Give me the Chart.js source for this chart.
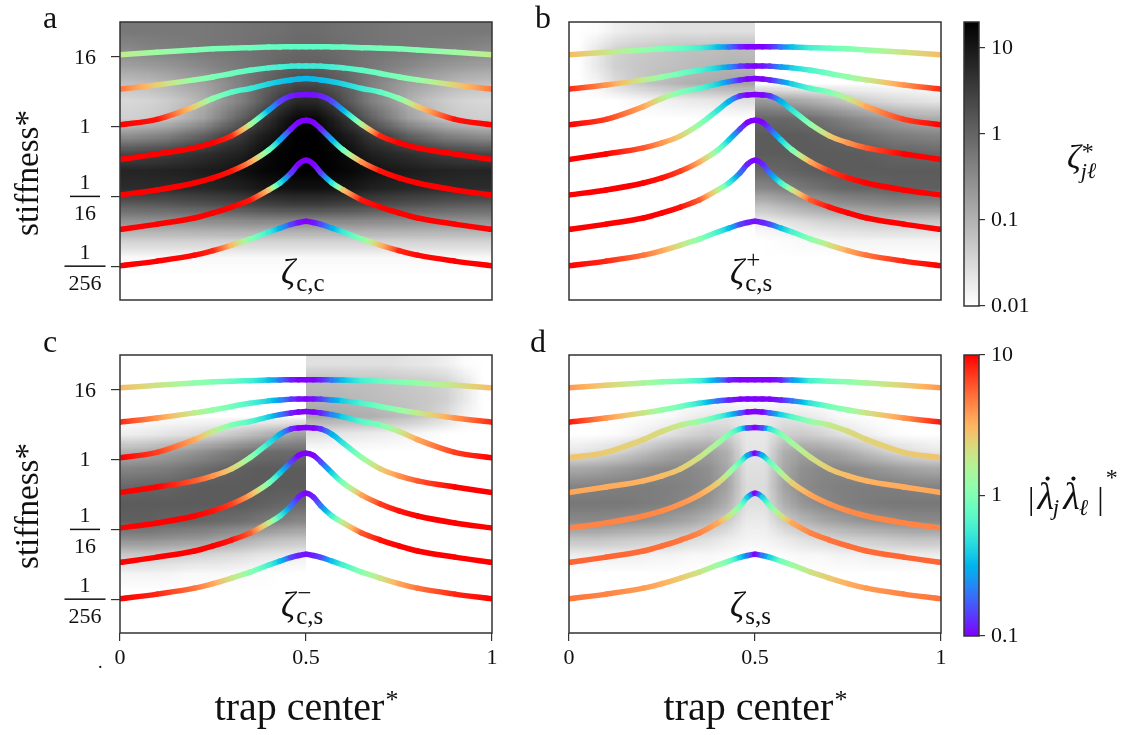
<!DOCTYPE html>
<html>
<head>
<meta charset="utf-8">
<script src="https://cdn.jsdelivr.net/npm/chart.js@4.4.1/dist/chart.umd.min.js"></script>
<style>
  html, body { margin: 0; padding: 0; background: #fff; }
  #fig { position: relative; width: 1147px; height: 735px; overflow: hidden; background: #fff; }
  #fig canvas { position: absolute; left: 0; top: 0; }
</style>
</head>
<body>
<div id="fig">
  <canvas id="pa" width="1147" height="735"></canvas>
  <canvas id="pb" width="1147" height="735"></canvas>
  <canvas id="pc" width="1147" height="735"></canvas>
  <canvas id="pd" width="1147" height="735"></canvas>
  <canvas id="cbZeta" width="1147" height="735"></canvas>
  <canvas id="cbRate" width="1147" height="735"></canvas>
</div>
<script>
// trap centre positions shared by all curves
const trapCenter = [0, 0.1, 0.2, 0.25, 0.3, 0.35, 0.4, 0.43, 0.46, 0.48, 0.5, 0.52, 0.54, 0.57, 0.6, 0.65, 0.7, 0.75, 0.8, 0.9, 1];

// log2 of the stiffness for each of the seven branches
const stiff1 = [4.12, 4.26, 4.40, 4.46, 4.50, 4.53, 4.56, 4.57, 4.58, 4.58, 4.58, 4.58, 4.58, 4.57, 4.56, 4.53, 4.50, 4.46, 4.40, 4.26, 4.12];
const stiff2 = [2.15, 2.39, 2.68, 2.85, 3.05, 3.23, 3.37, 3.42, 3.47, 3.48, 3.48, 3.48, 3.47, 3.42, 3.37, 3.23, 3.05, 2.85, 2.68, 2.39, 2.15];
const stiff3 = [0.10, 0.42, 1.15, 1.62, 1.98, 2.19, 2.45, 2.58, 2.68, 2.73, 2.76, 2.73, 2.68, 2.58, 2.45, 2.19, 1.98, 1.62, 1.15, 0.42, 0.10];
const stiff4 = [-1.88, -1.57, -1.22, -0.93, -0.53, 0.12, 0.95, 1.45, 1.76, 1.82, 1.84, 1.82, 1.76, 1.45, 0.95, 0.12, -0.53, -0.93, -1.22, -1.57, -1.88];
const stiff5 = [-3.92, -3.63, -3.23, -2.94, -2.54, -2.03, -1.34, -0.76, -0.13, 0.24, 0.36, 0.24, -0.13, -0.76, -1.34, -2.03, -2.54, -2.94, -3.23, -3.63, -3.92];
const stiff6 = [-5.89, -5.59, -5.24, -4.95, -4.61, -4.21, -3.63, -3.23, -2.65, -2.15, -1.93, -2.15, -2.65, -3.23, -3.63, -4.21, -4.61, -4.95, -5.24, -5.59, -5.89];
const stiff7 = [-7.98, -7.71, -7.37, -7.11, -6.79, -6.45, -6.04, -5.82, -5.61, -5.50, -5.43, -5.50, -5.61, -5.82, -6.04, -6.45, -6.79, -7.11, -7.37, -7.71, -7.98];
const branches = [stiff1, stiff2, stiff3, stiff4, stiff5, stiff6, stiff7];

// |λ̇c λ̇c|* along each branch
const rateCC = [
  [1.8, 1.3, 1.05, 0.98, 0.92, 0.86, 0.8, 0.78, 0.76, 0.75, 0.75, 0.75, 0.76, 0.78, 0.8, 0.86, 0.92, 0.98, 1.05, 1.3, 1.8],
  [5, 2.5, 1.2, 1.0, 0.85, 0.75, 0.65, 0.6, 0.56, 0.55, 0.55, 0.55, 0.56, 0.6, 0.65, 0.75, 0.85, 1.0, 1.2, 2.5, 5],
  [10, 9, 2.5, 1.1, 0.75, 0.55, 0.42, 0.37, 0.34, 0.33, 0.33, 0.33, 0.34, 0.37, 0.42, 0.55, 0.75, 1.1, 2.5, 9, 10],
  [10, 10, 10, 10, 8, 1.6, 0.3, 0.15, 0.12, 0.11, 0.11, 0.11, 0.12, 0.15, 0.3, 1.6, 8, 10, 10, 10, 10],
  [10, 10, 10, 10, 9, 4, 0.9, 0.3, 0.12, 0.1, 0.1, 0.1, 0.12, 0.3, 0.9, 4, 9, 10, 10, 10, 10],
  [10, 10, 10, 10, 10, 9, 2.7, 0.5, 0.14, 0.1, 0.1, 0.1, 0.14, 0.5, 2.7, 9, 10, 10, 10, 10, 10],
  [10, 10, 9.5, 8, 3, 1.1, 0.55, 0.3, 0.15, 0.11, 0.1, 0.11, 0.15, 0.3, 0.55, 1.1, 3, 8, 9.5, 10, 10]
];
// |λ̇c λ̇s|*
const rateCS = [
  [3, 2, 1.2, 1.0, 0.8, 0.6, 0.35, 0.2, 0.12, 0.1, 0.1, 0.1, 0.12, 0.2, 0.35, 0.6, 0.8, 1.0, 1.2, 2, 3],
  [8, 4, 1.8, 1.2, 0.9, 0.65, 0.4, 0.25, 0.14, 0.11, 0.1, 0.11, 0.14, 0.25, 0.4, 0.65, 0.9, 1.2, 1.8, 4, 8],
  [10, 7, 3.5, 1.8, 1.0, 0.7, 0.4, 0.22, 0.12, 0.1, 0.1, 0.1, 0.12, 0.22, 0.4, 0.7, 1.0, 1.8, 3.5, 7, 10],
  [10, 10, 6, 4, 2.5, 1.2, 0.5, 0.3, 0.13, 0.1, 0.1, 0.1, 0.13, 0.3, 0.5, 1.2, 2.5, 4, 6, 10, 10],
  [10, 10, 10, 9, 7, 3.5, 1.0, 0.4, 0.15, 0.1, 0.1, 0.1, 0.15, 0.4, 1.0, 3.5, 7, 9, 10, 10, 10],
  [10, 10, 10, 10, 9, 6, 1.8, 0.6, 0.2, 0.12, 0.1, 0.12, 0.2, 0.6, 1.8, 6, 9, 10, 10, 10, 10],
  [10, 8, 5, 3.5, 2, 1.1, 0.6, 0.35, 0.15, 0.12, 0.11, 0.12, 0.15, 0.35, 0.6, 1.1, 2, 3.5, 5, 8, 10]
];
// |λ̇s λ̇s|*
const rateSS = [
  [4, 2.5, 1.5, 1.1, 0.9, 0.6, 0.25, 0.12, 0.1, 0.1, 0.1, 0.1, 0.1, 0.12, 0.25, 0.6, 0.9, 1.1, 1.5, 2.5, 4],
  [9, 4, 2, 1.2, 0.9, 0.5, 0.2, 0.12, 0.1, 0.1, 0.1, 0.1, 0.1, 0.12, 0.2, 0.5, 0.9, 1.2, 2, 4, 9],
  [2.8, 2.6, 2.4, 2.2, 1.8, 1.2, 0.7, 0.4, 0.18, 0.1, 0.1, 0.1, 0.18, 0.4, 0.7, 1.2, 1.8, 2.2, 2.4, 2.6, 2.8],
  [3.5, 3.4, 3.2, 3, 2.6, 2.0, 1.4, 1.0, 0.5, 0.15, 0.1, 0.15, 0.5, 1.0, 1.4, 2.0, 2.6, 3, 3.2, 3.4, 3.5],
  [4.5, 4.5, 4.4, 4.3, 4.0, 3.5, 2.5, 1.5, 0.8, 0.3, 0.1, 0.3, 0.8, 1.5, 2.5, 3.5, 4.0, 4.3, 4.4, 4.5, 4.5],
  [5.5, 5.5, 5.3, 5.2, 5, 4.5, 3.5, 2, 1, 0.4, 0.1, 0.4, 1, 2, 3.5, 4.5, 5, 5.2, 5.3, 5.5, 5.5],
  [5, 4.5, 3.8, 3.3, 2.6, 2, 1.3, 0.9, 0.4, 0.2, 0.1, 0.2, 0.4, 0.9, 1.3, 2, 2.6, 3.3, 3.8, 4.5, 5]
];

// ζ* field: cell edges in trap centre and in log2 stiffness
const cellEdgesX = [0, 0.05, 0.1, 0.15, 0.2, 0.25, 0.3, 0.35, 0.4, 0.45, 0.5, 0.55, 0.6, 0.65, 0.7, 0.75, 0.8, 0.85, 0.9, 0.95, 1];
const cellEdgesY = [6, 5, 4, 3, 2, 1, 0, -1, -2, -3, -4, -5, -6, -7, -8, -9, -10];

const zetaCC = [
  [0.56, 0.56, 0.56, 0.56, 0.56, 0.6, 0.63, 0.67, 0.71, 0.8, 0.8, 0.71, 0.67, 0.63, 0.6, 0.56, 0.56, 0.56, 0.56, 0.56],
  [0.35, 0.4, 0.44, 0.5, 0.56, 0.6, 0.63, 0.71, 0.8, 0.9, 0.9, 0.8, 0.71, 0.63, 0.6, 0.56, 0.5, 0.44, 0.4, 0.35],
  [0.17, 0.19, 0.22, 0.27, 0.35, 0.44, 0.56, 0.71, 1.0, 1.14, 1.14, 1.0, 0.71, 0.56, 0.44, 0.35, 0.27, 0.22, 0.19, 0.17],
  [0.065, 0.074, 0.093, 0.13, 0.17, 0.27, 0.44, 0.9, 1.45, 2.3, 2.3, 1.45, 0.9, 0.44, 0.27, 0.17, 0.13, 0.093, 0.074, 0.065],
  [0.032, 0.036, 0.046, 0.065, 0.105, 0.22, 0.44, 1.14, 3.0, 6.1, 6.1, 3.0, 1.14, 0.44, 0.22, 0.105, 0.065, 0.046, 0.036, 0.032],
  [0.041, 0.046, 0.058, 0.093, 0.17, 0.44, 1.14, 3.0, 7.7, 15.7, 15.7, 7.7, 3.0, 1.14, 0.44, 0.17, 0.093, 0.058, 0.046, 0.041],
  [0.27, 0.35, 0.44, 0.71, 1.14, 2.3, 3.8, 7.7, 12.4, 20, 20, 12.4, 7.7, 3.8, 2.3, 1.14, 0.71, 0.44, 0.35, 0.27],
  [2.3, 2.6, 3.0, 3.8, 4.8, 6.1, 7.7, 12.4, 17.5, 20, 20, 17.5, 12.4, 7.7, 6.1, 4.8, 3.8, 3.0, 2.6, 2.3],
  [6.9, 6.9, 7.3, 7.7, 8.7, 9.8, 12.4, 15.7, 17.5, 20, 20, 17.5, 15.7, 12.4, 9.8, 8.7, 7.7, 7.3, 6.9, 6.9],
  [5.4, 5.4, 5.4, 5.8, 6.1, 6.9, 7.7, 9.8, 11, 12.4, 12.4, 11, 9.8, 7.7, 6.9, 6.1, 5.8, 5.4, 5.4, 5.4],
  [1.14, 1.2, 1.3, 1.45, 1.6, 1.8, 2.1, 2.4, 2.7, 3.0, 3.0, 2.7, 2.4, 2.1, 1.8, 1.6, 1.45, 1.3, 1.2, 1.14],
  [0.22, 0.22, 0.22, 0.23, 0.24, 0.25, 0.26, 0.27, 0.27, 0.27, 0.27, 0.27, 0.27, 0.26, 0.25, 0.24, 0.23, 0.22, 0.22, 0.22],
  [0.041, 0.041, 0.041, 0.041, 0.041, 0.041, 0.041, 0.041, 0.041, 0.041, 0.041, 0.041, 0.041, 0.041, 0.041, 0.041, 0.041, 0.041, 0.041, 0.041],
  [0.012, 0.012, 0.012, 0.012, 0.012, 0.012, 0.012, 0.012, 0.012, 0.012, 0.012, 0.012, 0.012, 0.012, 0.012, 0.012, 0.012, 0.012, 0.012, 0.012],
  [0.01, 0.01, 0.01, 0.01, 0.01, 0.01, 0.01, 0.01, 0.01, 0.01, 0.01, 0.01, 0.01, 0.01, 0.01, 0.01, 0.01, 0.01, 0.01, 0.01],
  [0.01, 0.01, 0.01, 0.01, 0.01, 0.01, 0.01, 0.01, 0.01, 0.01, 0.01, 0.01, 0.01, 0.01, 0.01, 0.01, 0.01, 0.01, 0.01, 0.01]
];

const zetaCSplus = [
  [0.01, 0.011, 0.016, 0.02, 0.022, 0.025, 0.025, 0.025, 0.025, 0.025, 0.01, 0.01, 0.01, 0.01, 0.01, 0.01, 0.01, 0.01, 0.01, 0.01],
  [0.01, 0.02, 0.036, 0.046, 0.051, 0.058, 0.065, 0.065, 0.074, 0.074, 0.01, 0.01, 0.01, 0.01, 0.01, 0.01, 0.01, 0.01, 0.01, 0.01],
  [0.01, 0.02, 0.041, 0.051, 0.058, 0.065, 0.074, 0.083, 0.093, 0.093, 0.01, 0.01, 0.01, 0.01, 0.01, 0.01, 0.01, 0.01, 0.01, 0.01],
  [0.01, 0.014, 0.028, 0.046, 0.065, 0.083, 0.105, 0.12, 0.14, 0.15, 0.01, 0.01, 0.01, 0.01, 0.01, 0.01, 0.01, 0.01, 0.01, 0.01],
  [0.01, 0.01, 0.01, 0.012, 0.014, 0.016, 0.018, 0.02, 0.022, 0.025, 0.22, 0.17, 0.13, 0.093, 0.065, 0.046, 0.036, 0.028, 0.025, 0.022],
  [0.01, 0.01, 0.01, 0.01, 0.01, 0.01, 0.01, 0.01, 0.01, 0.01, 0.9, 0.9, 0.8, 0.63, 0.44, 0.31, 0.22, 0.17, 0.13, 0.12],
  [0.01, 0.01, 0.01, 0.01, 0.01, 0.01, 0.01, 0.01, 0.01, 0.01, 1.3, 1.3, 1.3, 1.14, 1.0, 0.8, 0.63, 0.5, 0.44, 0.39],
  [0.01, 0.01, 0.01, 0.01, 0.01, 0.01, 0.01, 0.01, 0.01, 0.01, 1.3, 1.3, 1.3, 1.3, 1.3, 1.3, 1.14, 1.0, 1.0, 0.9],
  [0.01, 0.01, 0.01, 0.01, 0.01, 0.01, 0.01, 0.01, 0.01, 0.01, 0.9, 1.0, 1.14, 1.3, 1.3, 1.3, 1.3, 1.3, 1.3, 1.3],
  [0.01, 0.01, 0.01, 0.01, 0.01, 0.01, 0.01, 0.01, 0.01, 0.01, 0.35, 0.44, 0.56, 0.71, 0.9, 1.0, 1.0, 1.14, 1.14, 1.14],
  [0.01, 0.01, 0.01, 0.01, 0.01, 0.01, 0.01, 0.01, 0.01, 0.01, 0.065, 0.093, 0.13, 0.17, 0.22, 0.24, 0.27, 0.31, 0.31, 0.31],
  [0.01, 0.01, 0.01, 0.01, 0.01, 0.01, 0.01, 0.01, 0.01, 0.01, 0.016, 0.02, 0.025, 0.032, 0.036, 0.041, 0.046, 0.046, 0.046, 0.046],
  [0.01, 0.01, 0.01, 0.01, 0.01, 0.01, 0.01, 0.01, 0.01, 0.01, 0.01, 0.011, 0.012, 0.012, 0.014, 0.014, 0.014, 0.014, 0.014, 0.014],
  [0.01, 0.01, 0.01, 0.01, 0.01, 0.01, 0.01, 0.01, 0.01, 0.01, 0.01, 0.01, 0.01, 0.01, 0.01, 0.01, 0.01, 0.01, 0.01, 0.01],
  [0.01, 0.01, 0.01, 0.01, 0.01, 0.01, 0.01, 0.01, 0.01, 0.01, 0.01, 0.01, 0.01, 0.01, 0.01, 0.01, 0.01, 0.01, 0.01, 0.01],
  [0.01, 0.01, 0.01, 0.01, 0.01, 0.01, 0.01, 0.01, 0.01, 0.01, 0.01, 0.01, 0.01, 0.01, 0.01, 0.01, 0.01, 0.01, 0.01, 0.01]
];

const zetaCSminus = [
  [0.01, 0.01, 0.01, 0.01, 0.01, 0.01, 0.01, 0.01, 0.01, 0.01, 0.025, 0.025, 0.025, 0.025, 0.025, 0.022, 0.02, 0.016, 0.011, 0.01],
  [0.01, 0.01, 0.01, 0.01, 0.01, 0.01, 0.01, 0.01, 0.01, 0.01, 0.074, 0.074, 0.065, 0.065, 0.058, 0.051, 0.046, 0.036, 0.02, 0.01],
  [0.01, 0.01, 0.01, 0.01, 0.01, 0.01, 0.01, 0.01, 0.01, 0.01, 0.093, 0.093, 0.083, 0.074, 0.065, 0.058, 0.051, 0.041, 0.02, 0.01],
  [0.01, 0.01, 0.01, 0.01, 0.01, 0.01, 0.01, 0.01, 0.01, 0.01, 0.15, 0.14, 0.12, 0.105, 0.083, 0.065, 0.046, 0.028, 0.014, 0.01],
  [0.016, 0.018, 0.022, 0.025, 0.032, 0.041, 0.058, 0.083, 0.12, 0.17, 0.025, 0.022, 0.02, 0.018, 0.016, 0.014, 0.012, 0.01, 0.01, 0.01],
  [0.1, 0.12, 0.15, 0.19, 0.27, 0.39, 0.56, 0.71, 0.8, 0.8, 0.01, 0.01, 0.01, 0.01, 0.01, 0.01, 0.01, 0.01, 0.01, 0.01],
  [0.39, 0.44, 0.5, 0.63, 0.8, 1.0, 1.14, 1.3, 1.3, 1.3, 0.01, 0.01, 0.01, 0.01, 0.01, 0.01, 0.01, 0.01, 0.01, 0.01],
  [0.9, 1.0, 1.0, 1.14, 1.3, 1.3, 1.3, 1.3, 1.3, 1.3, 0.01, 0.01, 0.01, 0.01, 0.01, 0.01, 0.01, 0.01, 0.01, 0.01],
  [1.3, 1.3, 1.3, 1.3, 1.3, 1.3, 1.3, 1.14, 1.0, 0.9, 0.01, 0.01, 0.01, 0.01, 0.01, 0.01, 0.01, 0.01, 0.01, 0.01],
  [1.14, 1.14, 1.0, 1.0, 0.9, 0.8, 0.71, 0.56, 0.44, 0.35, 0.01, 0.01, 0.01, 0.01, 0.01, 0.01, 0.01, 0.01, 0.01, 0.01],
  [0.31, 0.31, 0.27, 0.24, 0.22, 0.17, 0.13, 0.093, 0.074, 0.065, 0.01, 0.01, 0.01, 0.01, 0.01, 0.01, 0.01, 0.01, 0.01, 0.01],
  [0.046, 0.046, 0.041, 0.036, 0.032, 0.028, 0.025, 0.02, 0.018, 0.016, 0.01, 0.01, 0.01, 0.01, 0.01, 0.01, 0.01, 0.01, 0.01, 0.01],
  [0.014, 0.014, 0.014, 0.012, 0.012, 0.012, 0.011, 0.011, 0.01, 0.01, 0.01, 0.01, 0.01, 0.01, 0.01, 0.01, 0.01, 0.01, 0.01, 0.01],
  [0.01, 0.01, 0.01, 0.01, 0.01, 0.01, 0.01, 0.01, 0.01, 0.01, 0.01, 0.01, 0.01, 0.01, 0.01, 0.01, 0.01, 0.01, 0.01, 0.01],
  [0.01, 0.01, 0.01, 0.01, 0.01, 0.01, 0.01, 0.01, 0.01, 0.01, 0.01, 0.01, 0.01, 0.01, 0.01, 0.01, 0.01, 0.01, 0.01, 0.01],
  [0.01, 0.01, 0.01, 0.01, 0.01, 0.01, 0.01, 0.01, 0.01, 0.01, 0.01, 0.01, 0.01, 0.01, 0.01, 0.01, 0.01, 0.01, 0.01, 0.01]
];

const zetaSS = [
  [0.01, 0.01, 0.01, 0.01, 0.01, 0.01, 0.01, 0.01, 0.01, 0.01, 0.01, 0.01, 0.01, 0.01, 0.01, 0.01, 0.01, 0.01, 0.01, 0.01],
  [0.01, 0.01, 0.01, 0.01, 0.01, 0.01, 0.01, 0.01, 0.01, 0.01, 0.01, 0.01, 0.01, 0.01, 0.01, 0.01, 0.01, 0.01, 0.01, 0.01],
  [0.01, 0.01, 0.01, 0.01, 0.01, 0.01, 0.01, 0.01, 0.01, 0.01, 0.01, 0.01, 0.01, 0.01, 0.01, 0.01, 0.01, 0.01, 0.01, 0.01],
  [0.01, 0.01, 0.01, 0.01, 0.011, 0.012, 0.016, 0.02, 0.022, 0.018, 0.018, 0.022, 0.02, 0.016, 0.012, 0.011, 0.01, 0.01, 0.01, 0.01],
  [0.01, 0.01, 0.011, 0.014, 0.018, 0.025, 0.036, 0.046, 0.041, 0.02, 0.02, 0.041, 0.046, 0.036, 0.025, 0.018, 0.014, 0.011, 0.01, 0.01],
  [0.02, 0.025, 0.032, 0.051, 0.083, 0.13, 0.17, 0.17, 0.105, 0.022, 0.022, 0.105, 0.17, 0.17, 0.13, 0.083, 0.051, 0.032, 0.025, 0.02],
  [0.13, 0.15, 0.19, 0.24, 0.31, 0.35, 0.35, 0.27, 0.13, 0.025, 0.025, 0.13, 0.27, 0.35, 0.35, 0.31, 0.24, 0.19, 0.15, 0.13],
  [0.39, 0.41, 0.44, 0.47, 0.47, 0.44, 0.39, 0.31, 0.15, 0.028, 0.028, 0.15, 0.31, 0.39, 0.44, 0.47, 0.47, 0.44, 0.41, 0.39],
  [0.56, 0.56, 0.56, 0.53, 0.47, 0.41, 0.33, 0.22, 0.105, 0.025, 0.025, 0.105, 0.22, 0.33, 0.41, 0.47, 0.53, 0.56, 0.56, 0.56],
  [0.33, 0.33, 0.29, 0.26, 0.22, 0.17, 0.13, 0.083, 0.046, 0.018, 0.018, 0.046, 0.083, 0.13, 0.17, 0.22, 0.26, 0.29, 0.33, 0.33],
  [0.065, 0.065, 0.058, 0.051, 0.046, 0.041, 0.032, 0.025, 0.018, 0.014, 0.014, 0.018, 0.025, 0.032, 0.041, 0.046, 0.051, 0.058, 0.065, 0.065],
  [0.016, 0.016, 0.016, 0.016, 0.014, 0.014, 0.012, 0.012, 0.011, 0.01, 0.01, 0.011, 0.012, 0.012, 0.014, 0.014, 0.016, 0.016, 0.016, 0.016],
  [0.01, 0.01, 0.01, 0.01, 0.01, 0.01, 0.01, 0.01, 0.01, 0.01, 0.01, 0.01, 0.01, 0.01, 0.01, 0.01, 0.01, 0.01, 0.01, 0.01],
  [0.01, 0.01, 0.01, 0.01, 0.01, 0.01, 0.01, 0.01, 0.01, 0.01, 0.01, 0.01, 0.01, 0.01, 0.01, 0.01, 0.01, 0.01, 0.01, 0.01],
  [0.01, 0.01, 0.01, 0.01, 0.01, 0.01, 0.01, 0.01, 0.01, 0.01, 0.01, 0.01, 0.01, 0.01, 0.01, 0.01, 0.01, 0.01, 0.01, 0.01],
  [0.01, 0.01, 0.01, 0.01, 0.01, 0.01, 0.01, 0.01, 0.01, 0.01, 0.01, 0.01, 0.01, 0.01, 0.01, 0.01, 0.01, 0.01, 0.01, 0.01]
];

// axis ticks
const stiffTicks = [4, 0, -4, -8];
const stiffTickLabels = [['16'], ['1'], ['1', '16'], ['1', '256']];
const centerTicks = [0, 0.5, 1];
const centerTickLabels = ['0', '0.5', '1'];
const zetaTicks = [0.01, 0.1, 1, 10];
const zetaTickLabels = ['0.01', '0.1', '1', '10'];
const rateTicks = [0.1, 1, 10];
const rateTickLabels = ['0.1', '1', '10'];

const SERIF = "'Liberation Serif', 'Times New Roman', Times, serif";
const INK = '#111';
const FRAME = '#333';
Chart.defaults.font.family = SERIF;
Chart.defaults.color = INK;

// matplotlib-style "rainbow" on a log axis from 0.1 to 10
function rainbow(v) {
  let t = (Math.log10(v) + 1) / 2;
  t = Math.min(1, Math.max(0, t));
  const r = Math.min(1, Math.abs(2 * t - 0.5));
  const g = Math.sin(Math.PI * t);
  const b = Math.cos(Math.PI * t / 2);
  return `rgb(${Math.round(r * 255)},${Math.round(g * 255)},${Math.round(b * 255)})`;
}

// grey level for ζ on a log axis from 0.01 (white) to 20 (black)
function greyOf(z) {
  let t = (Math.log10(z) + 2) / Math.log10(2000);
  t = Math.min(1, Math.max(0, t));
  return Math.round(255 * (1 - t));
}

function setFont(ctx, size, italic) {
  ctx.font = `${italic ? 'italic ' : ''}${size}px ${SERIF}`;
}

function text(ctx, s, x, y, size, o = {}) {
  setFont(ctx, size, o.italic);
  ctx.textAlign = o.align || 'left';
  ctx.textBaseline = o.base || 'alphabetic';
  ctx.fillStyle = INK;
  ctx.fillText(s, x, y);
  return ctx.measureText(s).width;
}

// colour each stretch of a curve by its rate value
function segGradient(vals) {
  return (sc) => {
    const { p0, p1, p0DataIndex: i, p1DataIndex: j } = sc;
    const g = sc.chart.ctx.createLinearGradient(p0.x, p0.y, p1.x, p1.y);
    const l0 = Math.log10(vals[i]), l1 = Math.log10(vals[j]);
    for (let k = 0; k <= 8; k++) {
      const t = k / 8;
      g.addColorStop(t, rainbow(Math.pow(10, l0 + (l1 - l0) * t)));
    }
    return g;
  };
}

// ζ field drawn under the curves, smoothed between cell centres
function drawField(chart, field, split) {
  const { ctx, chartArea: ca, scales: { x, y } } = chart;
  const rows = field.length, cols = field[0].length;
  const parts = split ? [[0, cols / 2], [cols / 2, cols]] : [[0, cols]];
  ctx.save();
  ctx.beginPath();
  ctx.rect(ca.left, ca.top, ca.right - ca.left, ca.bottom - ca.top);
  ctx.clip();
  ctx.imageSmoothingEnabled = true;
  for (const [c0, c1] of parts) {
    const w = c1 - c0;
    const off = document.createElement('canvas');
    off.width = w; off.height = rows;
    const octx = off.getContext('2d');
    const img = octx.createImageData(w, rows);
    for (let r = 0; r < rows; r++) {
      for (let c = c0; c < c1; c++) {
        const g = greyOf(field[r][c]);
        const i = (r * w + (c - c0)) * 4;
        img.data[i] = g; img.data[i + 1] = g; img.data[i + 2] = g; img.data[i + 3] = 255;
      }
    }
    octx.putImageData(img, 0, 0);
    const xl = x.getPixelForValue(cellEdgesX[c0]);
    const xr = x.getPixelForValue(cellEdgesX[c1]);
    const yt = y.getPixelForValue(cellEdgesY[0]);
    const yb = y.getPixelForValue(cellEdgesY[rows]);
    ctx.drawImage(off, xl, yt, xr - xl, yb - yt);
  }
  ctx.restore();
}

const panels = {
  pa: { letter: 'a', lx: 43, ly: 28, field: zetaCC, split: false, rates: rateCC, sub: 'c,c', sup: '', showY: true, showX: false,
        box: { left: 120, top: 22, right: 492, bottom: 300 } },
  pb: { letter: 'b', lx: 535, ly: 28, field: zetaCSplus, split: true, rates: rateCS, sub: 'c,s', sup: '+', showY: false, showX: false,
        box: { left: 569, top: 22, right: 941, bottom: 300 } },
  pc: { letter: 'c', lx: 43, ly: 352, field: zetaCSminus, split: true, rates: rateCS, sub: 'c,s', sup: '\u2212', showY: true, showX: true,
        box: { left: 120, top: 355, right: 492, bottom: 633 } },
  pd: { letter: 'd', lx: 530, ly: 352, field: zetaSS, split: false, rates: rateSS, sub: 's,s', sup: '', showY: false, showX: true,
        box: { left: 569, top: 355, right: 941, bottom: 633 } }
};

const panelDecor = {
  id: 'panelDecor',
  beforeDatasetsDraw(chart) {
    const p = panels[chart.canvas.id];
    drawField(chart, p.field, p.split);
  },
  afterDatasetsDraw(chart) {
    const p = panels[chart.canvas.id];
    const { ctx, chartArea: ca, scales: { x, y } } = chart;
    ctx.save();
    ctx.strokeStyle = FRAME;
    ctx.lineWidth = 1.5;
    ctx.strokeRect(ca.left, ca.top, ca.right - ca.left, ca.bottom - ca.top);

    // panel letter
    text(ctx, p.letter, p.lx, p.ly, 32);

    // ζ label at the bottom of the panel
    const cx = x.getPixelForValue(0.5);
    const wz = text(ctx, '\u03B6', cx - 25, ca.bottom - 16, 35, { italic: true });
    const sx = cx - 25 + wz + 1;
    text(ctx, p.sub, sx, ca.bottom - 9, 25);
    if (p.sup) text(ctx, p.sup, sx + 1, ca.bottom - 32, 25);

    if (p.showY) {
      const lx = ca.left - 35;
      stiffTicks.forEach((v, k) => {
        const py = y.getPixelForValue(v);
        const lab = stiffTickLabels[k];
        if (lab.length === 1) {
          text(ctx, lab[0], lx, py + 1, 22, { align: 'center', base: 'middle' });
        } else {
          setFont(ctx, 22, false);
          const w = ctx.measureText(lab[1]).width + 8;
          text(ctx, lab[0], lx, py - 13, 22, { align: 'center', base: 'middle' });
          text(ctx, lab[1], lx, py + 18, 22, { align: 'center', base: 'middle' });
          ctx.fillStyle = INK;
          ctx.fillRect(lx - w / 2, py - 0.75, w, 1.5);
        }
      });
      // rotated axis title
      ctx.save();
      ctx.translate(38, (ca.top + ca.bottom) / 2 + 12);
      ctx.rotate(-Math.PI / 2);
      text(ctx, 'stiffness*', 0, 0, 33, { align: 'center' });
      ctx.restore();
    }

    if (p.showX) {
      setFont(ctx, 40, false);
      const w1 = ctx.measureText('trap center').width;
      setFont(ctx, 26, false);
      const w2 = ctx.measureText('*').width;
      const x0 = cx - (w1 + w2) / 2;
      text(ctx, 'trap center', x0, 720, 40);
      text(ctx, '*', x0 + w1 + 1, 708, 26);
    }
    ctx.restore();
  }
};

function makePanel(id) {
  const p = panels[id];
  const yW = p.showY ? 10 : 0;
  const xH = p.showX ? 40 : 0;
  const datasets = branches.map((b, k) => ({
    data: trapCenter.map((xv, i) => ({ x: xv, y: b[i] })),
    borderWidth: 5.5,
    borderColor: rainbow(p.rates[k][0]),
    borderCapStyle: 'round',
    borderJoinStyle: 'round',
    pointRadius: 0,
    cubicInterpolationMode: 'monotone',
    clip: 0,
    segment: { borderColor: segGradient(p.rates[k]) }
  }));
  new Chart(document.getElementById(id), {
    type: 'line',
    data: { datasets },
    options: {
      responsive: false,
      animation: false,
      events: [],
      layout: {
        padding: {
          left: p.box.left - yW,
          top: p.box.top,
          right: 1147 - p.box.right,
          bottom: 735 - p.box.bottom - xH
        }
      },
      plugins: { legend: { display: false }, tooltip: { enabled: false } },
      scales: {
        x: {
          type: 'linear', min: 0, max: 1,
          display: p.showX,
          afterBuildTicks: (s) => { s.ticks = centerTicks.map(v => ({ value: v })); },
          afterFit: (s) => { s.height = xH; },
          ticks: {
            font: { size: 22, family: SERIF }, color: INK, padding: 4, maxRotation: 0,
            callback: (v) => centerTickLabels[centerTicks.indexOf(v)]
          },
          grid: { drawOnChartArea: false, drawTicks: true, tickLength: 8, color: FRAME, lineWidth: 1.2 },
          border: { display: false }
        },
        y: {
          type: 'linear', min: -9.94, max: 6,
          display: p.showY,
          afterBuildTicks: (s) => { s.ticks = stiffTicks.map(v => ({ value: v })); },
          afterFit: (s) => { s.width = yW; },
          ticks: { display: false },
          grid: { drawOnChartArea: false, drawTicks: true, tickLength: 9, color: FRAME, lineWidth: 1.2 },
          border: { display: false }
        }
      }
    },
    plugins: [panelDecor]
  });
}

['pa', 'pb', 'pc', 'pd'].forEach(makePanel);

// dotted lambda for the rate label
function lambdaDot(ctx, x, base, size) {
  const w = text(ctx, '\u03BB', x, base, size, { italic: true });
  ctx.beginPath();
  ctx.arc(x + w * 0.62, base - size * 0.8, size * 0.055, 0, Math.PI * 2);
  ctx.fillStyle = INK;
  ctx.fill();
  return w;
}

// colour bars
const barDecor = {
  id: 'barDecor',
  afterDatasetsDraw(chart) {
    const { ctx, chartArea: ca } = chart;
    ctx.save();
    ctx.strokeStyle = FRAME;
    ctx.lineWidth = 1.5;
    ctx.strokeRect(ca.left, ca.top, ca.right - ca.left, ca.bottom - ca.top);
    if (chart.canvas.id === 'cbZeta') {
      const wz = text(ctx, '\u03B6', 1067, 168, 34, { italic: true });
      text(ctx, '*', 1067 + wz + 1, 159, 24);
      text(ctx, 'j\u2113', 1067 + wz, 178, 22, { italic: true });
    } else {
      const base = 509;
      let xx = 1028;
      xx += text(ctx, '|', xx, base, 32) + 3;
      xx += lambdaDot(ctx, xx, base, 38);
      xx += text(ctx, 'j', xx - 1, base + 6, 23, { italic: true }) + 3;
      xx += lambdaDot(ctx, xx, base, 38);
      xx += text(ctx, '\u2113', xx - 1, base + 6, 23, { italic: true }) + 8;
      xx += text(ctx, '|', xx, base, 32) + 2;
      text(ctx, '*', xx, base - 24, 24);
    }
    ctx.restore();
  }
};

function makeBar(id, lo, hi, top, bottom, ticks, labels, painter) {
  new Chart(document.getElementById(id), {
    type: 'bar',
    data: {
      labels: [''],
      datasets: [{
        data: [[lo, hi]],
        borderWidth: 0,
        barPercentage: 1,
        categoryPercentage: 1,
        backgroundColor: (c) => {
          const ca = c.chart.chartArea;
          if (!ca) return '#888';
          const g = c.chart.ctx.createLinearGradient(0, ca.bottom, 0, ca.top);
          for (let k = 0; k <= 24; k++) g.addColorStop(k / 24, painter(k / 24));
          return g;
        }
      }]
    },
    options: {
      responsive: false,
      animation: false,
      events: [],
      layout: { padding: { left: 964, top, right: 1147 - 979 - 60, bottom: 735 - bottom } },
      plugins: { legend: { display: false }, tooltip: { enabled: false } },
      scales: {
        x: { display: false },
        y: {
          type: 'logarithmic', position: 'right', min: lo, max: hi,
          afterBuildTicks: (s) => { s.ticks = ticks.map(v => ({ value: v })); },
          afterFit: (s) => { s.width = 60; },
          ticks: {
            font: { size: 22, family: SERIF }, color: INK, padding: 6,
            callback: (v) => labels[ticks.indexOf(v)]
          },
          grid: { drawOnChartArea: false, drawTicks: true, tickLength: 6, color: FRAME, lineWidth: 1.2 },
          border: { display: false }
        }
      }
    },
    plugins: [barDecor]
  });
}

makeBar('cbZeta', 0.01, 20, 22, 306, zetaTicks, zetaTickLabels, (t) => {
  const g = Math.round(255 * (1 - t));
  return `rgb(${g},${g},${g})`;
});
makeBar('cbRate', 0.1, 10, 355, 636, rateTicks, rateTickLabels, (t) => rainbow(Math.pow(10, 2 * t - 1)));

// small stray mark under the lower-left axis
(function () {
  const c = document.getElementById('cbRate').getContext('2d');
  text(c, '.', 98, 668, 18);
})();
</script>
</body>
</html>
